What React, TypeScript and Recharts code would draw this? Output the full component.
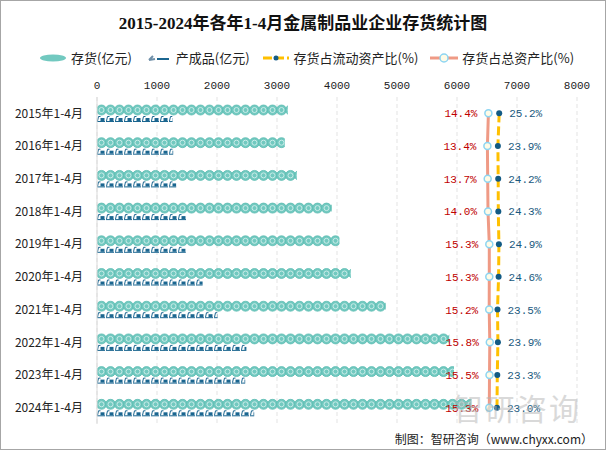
import {
  ComposedChart,
  Bar,
  Line,
  XAxis,
  YAxis,
  CartesianGrid,
  LabelList,
} from "recharts";

const years = [
  "2015年1-4月",
  "2016年1-4月",
  "2017年1-4月",
  "2018年1-4月",
  "2019年1-4月",
  "2020年1-4月",
  "2021年1-4月",
  "2022年1-4月",
  "2023年1-4月",
  "2024年1-4月",
];
const inventory = [3180, 3130, 3330, 3910, 4040, 4230, 4810, 5870, 5950, 6240];
const finished = [1260, 1270, 1320, 1490, 1480, 1760, 2010, 2490, 2470, 2620];
const currentRatio = [25.2, 23.9, 24.2, 24.3, 24.9, 24.6, 23.5, 23.9, 23.3, 23.0];
const totalRatio = [14.4, 13.4, 13.7, 14.0, 15.3, 15.3, 15.2, 15.8, 15.5, 15.3];
const xTicks = [0, 1000, 2000, 3000, 4000, 5000, 6000, 7000, 8000];

const data = years.map((name, i) => ({
  name,
  inventory: inventory[i],
  finished: finished[i],
  currentRatio: currentRatio[i],
  totalRatio: totalRatio[i],
}));

const CJK = '"Noto Sans CJK SC", sans-serif';
const MONO = '"Liberation Mono", monospace';

// repeated circles, clipped at the bar end
const CircleBar = (props: any) => {
  const { x, y, width, height, index } = props;
  if (!width || width <= 0) return null;
  const step = 9;
  const r = height / 2;
  const n = Math.ceil(width / step);
  const id = `inv-clip-${index}`;
  return (
    <g>
      <defs>
        <clipPath id={id}>
          <rect x={x} y={y - 1} width={width} height={height + 2} />
        </clipPath>
      </defs>
      <g clipPath={`url(#${id})`}>
        {Array.from({ length: n }, (_, i) => {
          const cx = x + step / 2 + i * step;
          const cy = y + r;
          return (
            <g key={i}>
              <circle cx={cx} cy={cy} r={r} fill="#72c9c0" stroke="#5dbcb2" strokeWidth={0.8} />
              <circle cx={cx} cy={cy} r={r * 0.5} fill="none" stroke="#c9ece8" strokeWidth={1} />
            </g>
          );
        })}
      </g>
    </g>
  );
};

// small repeated glyphs for finished goods
const GlyphBar = (props: any) => {
  const { x, y, width, height, index } = props;
  if (!width || width <= 0) return null;
  const step = 9;
  const n = Math.ceil(width / step);
  const id = `fin-clip-${index}`;
  return (
    <g>
      <defs>
        <clipPath id={id}>
          <rect x={x} y={y - 1} width={width} height={height + 2} />
        </clipPath>
      </defs>
      <g clipPath={`url(#${id})`} fill="#1b6690" stroke="#1b6690">
        {Array.from({ length: n }, (_, i) => {
          const gx = x + i * step;
          return (
            <g key={i}>
              <path d={`M${gx + 0.5} ${y + height - 1} L${gx + 1.5} ${y + 0.5} L${gx + 3.5} ${y + 0.5}`} fill="none" strokeWidth={1} />
              <rect x={gx + 3.5} y={y + 2} width={4} height={height - 3} stroke="none" />
              <line x1={gx} y1={y + height - 0.5} x2={gx + 8} y2={y + height - 0.5} strokeWidth={1} />
            </g>
          );
        })}
      </g>
    </g>
  );
};

const TotalLabel = (props: any) => {
  const { x, y, value } = props;
  return (
    <text x={x - 11} y={y + 4} textAnchor="end" fill="#c00000" fontSize={11} fontFamily={MONO}>
      {`${Number(value).toFixed(1)}%`}
    </text>
  );
};

const CurrentLabel = (props: any) => {
  const { x, y, value } = props;
  return (
    <text x={x + 10} y={y + 4} textAnchor="start" fill="#1a5a80" fontSize={11} fontFamily={MONO}>
      {`${Number(value).toFixed(1)}%`}
    </text>
  );
};

const LegendItem = ({ icon, label }: { icon: React.ReactNode; label: string }) => (
  <div style={{ display: "flex", alignItems: "center", marginRight: 11 }}>
    <svg width={30} height={12} style={{ marginRight: 3 }}>
      {icon}
    </svg>
    <span>{label}</span>
  </div>
);

export default function App() {
  return (
    <div
      style={{
        position: "absolute",
        left: 0,
        top: 0,
        width: 604,
        height: 448,
        border: "1px solid #a6a6a6",
        background: "#fff",
        fontFamily: CJK,
        overflow: "hidden",
      }}
    >
      <div
        style={{
          position: "absolute",
          top: 8,
          width: "100%",
          textAlign: "center",
          fontSize: 17,
          fontWeight: "bold",
          fontFamily: '"Liberation Serif", "Noto Sans CJK SC", serif',
          color: "#111",
        }}
      >
        2015-2024年各年1-4月金属制品业企业存货统计图
      </div>
      <div
        style={{
          position: "absolute",
          top: 47,
          left: 37,
          display: "flex",
          fontSize: 13,
          color: "#222",
        }}
      >
        <LegendItem
          label="存货(亿元)"
          icon={<ellipse cx={15} cy={6} rx={13} ry={3.5} fill="#72c9c0" />}
        />
        <LegendItem
          label="产成品(亿元)"
          icon={
            <g stroke="#1b6690" strokeWidth={2}>
              <path d="M6 8 L10 4 M6 8 L12 7" stroke="#6f8fa8" />
              <line x1={14} y1={7} x2={26} y2={7} />
            </g>
          }
        />
        <LegendItem
          label="存货占流动资产比(%)"
          icon={
            <g>
              <line x1={2} y1={6} x2={28} y2={6} stroke="#ffc000" strokeWidth={3} strokeDasharray="9 3" />
              <circle cx={15} cy={6} r={2.5} fill="#135b84" />
            </g>
          }
        />
        <LegendItem
          label="存货占总资产比(%)"
          icon={
            <g>
              <line x1={1} y1={6} x2={29} y2={6} stroke="#ef9a85" strokeWidth={3} />
              <circle cx={15} cy={6} r={4} fill="#fffbe6" stroke="#8dd5f2" strokeWidth={1.5} />
            </g>
          }
        />
      </div>

      <ComposedChart
        width={604}
        height={448}
        data={data}
        layout="vertical"
        margin={{ top: 76, right: 28, left: 0, bottom: 25 }}
        barGap={1}
        style={{ position: "absolute", left: 0, top: 0 }}
      >
        <CartesianGrid
          xAxisId="val"
          horizontal={false}
          stroke="#e3e3e3"
          strokeDasharray="4 3"
        />
        <XAxis
          xAxisId="val"
          type="number"
          orientation="top"
          domain={[0, 8000]}
          ticks={xTicks}
          axisLine={false}
          tickLine={false}
          height={20}
          tick={{ fontSize: 11, fill: "#222", fontFamily: MONO }}
          interval={0}
        />
        <XAxis xAxisId="pct" type="number" hide domain={[-377, 103]} />
        <YAxis
          type="category"
          dataKey="name"
          width={96}
          axisLine={{ stroke: "#d9d9d9" }}
          tickLine={false}
          tick={{ fontSize: 12, fill: "#222", fontFamily: CJK }}
          tickMargin={8}
        />
        <Bar
          xAxisId="val"
          dataKey="inventory"
          barSize={10}
          shape={CircleBar}
          isAnimationActive={false}
        />
        <Bar
          xAxisId="val"
          dataKey="finished"
          barSize={6}
          shape={GlyphBar}
          isAnimationActive={false}
        />
        <Line
          xAxisId="pct"
          dataKey="totalRatio"
          stroke="#ef9a85"
          strokeWidth={3}
          dot={{ r: 3.5, fill: "#fffbe6", stroke: "#8dd5f2", strokeWidth: 1.5 }}
          isAnimationActive={false}
        >
          <LabelList dataKey="totalRatio" content={TotalLabel} />
        </Line>
        <Line
          xAxisId="pct"
          dataKey="currentRatio"
          stroke="#ffc000"
          strokeWidth={3}
          strokeDasharray="9 4"
          dot={{ r: 3, fill: "#135b84", stroke: "none" }}
          isAnimationActive={false}
        >
          <LabelList dataKey="currentRatio" content={CurrentLabel} />
        </Line>
      </ComposedChart>

      <div
        style={{
          position: "absolute",
          left: 452,
          top: 384,
          fontSize: 30,
          color: "#b4b4b4",
          opacity: 0.5,
          letterSpacing: 2,
          pointerEvents: "none",
        }}
      >
        智研咨询
      </div>
      <div
        style={{
          position: "absolute",
          right: 12,
          top: 429,
          fontSize: 12,
          color: "#222",
        }}
      >
        制图：智研咨询（www.chyxx.com）
      </div>
    </div>
  );
}
